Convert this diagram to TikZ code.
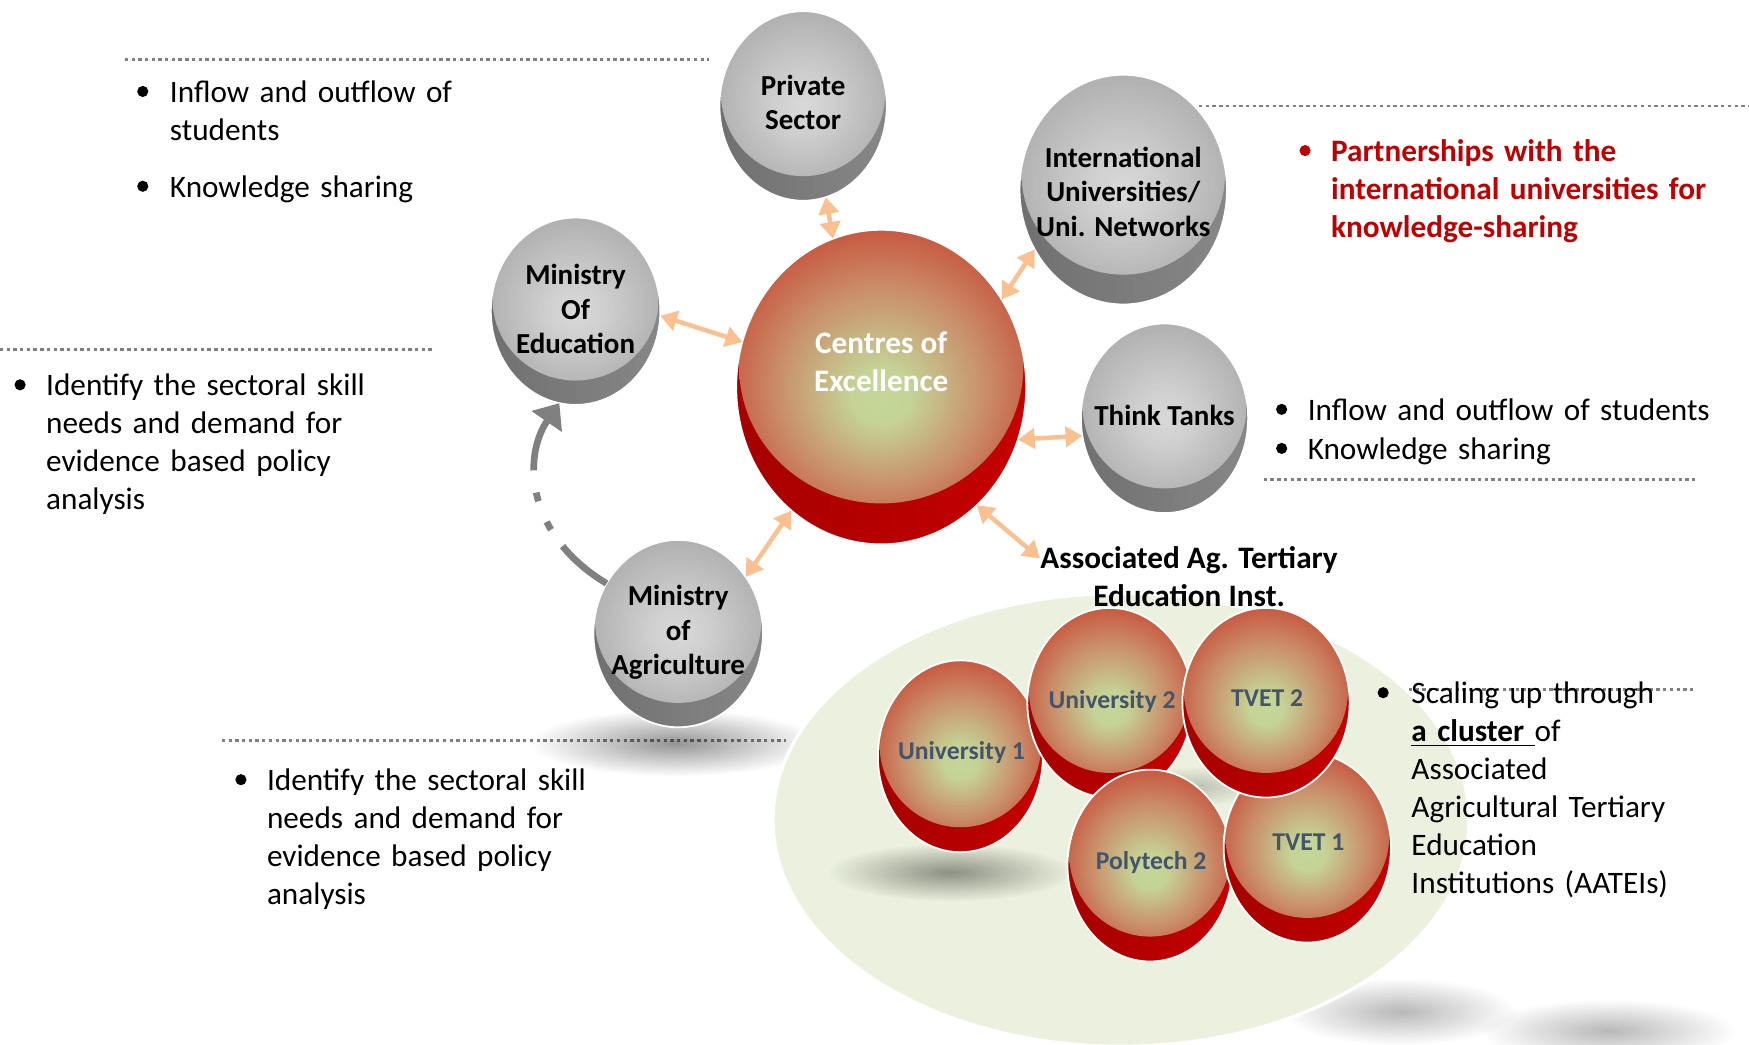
\documentclass[tikz,border=0pt]{standalone}
\usepackage{fontspec}
\setmainfont{Carlito}
\usetikzlibrary{arrows.meta,shapes.geometric,fadings}

\definecolor{arrowor}{RGB}{250,192,144}
\definecolor{dotgray}{RGB}{128,128,128}
\definecolor{redtxt}{RGB}{192,0,0}
\definecolor{smalltxt}{RGB}{68,84,106}
\definecolor{palegreen}{RGB}{235,241,222}
\definecolor{lipredA}{RGB}{165,0,0}
\definecolor{lipredB}{RGB}{198,0,0}
\definecolor{lipgrayA}{RGB}{112,112,112}
\definecolor{lipgrayB}{RGB}{135,135,135}
\definecolor{arcgray}{RGB}{128,128,128}

\pgfdeclareradialshading{redsph}{\pgfpoint{0bp}{-6bp}}{rgb(0bp)=(0.77,0.84,0.60); rgb(5bp)=(0.77,0.83,0.59); rgb(18bp)=(0.79,0.56,0.42); rgb(30bp)=(0.78,0.30,0.21); rgb(42bp)=(0.77,0.11,0.08); rgb(50bp)=(0.76,0.05,0.05)}
\pgfdeclareradialshading{graysph}{\pgfpoint{0bp}{-4bp}}{rgb(0bp)=(0.85,0.85,0.85); rgb(9bp)=(0.81,0.81,0.81); rgb(30bp)=(0.67,0.67,0.67); rgb(50bp)=(0.56,0.56,0.56)}
\tikzfading[name=softfade, inner color=transparent!0, outer color=transparent!100]

\tikzset{
  sph/.style n args={5}{ellipse, inner sep=0pt, outer sep=0pt, minimum width=#1pt, minimum height=#2pt,
    draw=white, line width=0.8pt,
    path picture={
      \shade[left color=#3, right color=#4] (path picture bounding box.south west) rectangle (path picture bounding box.north east);
      \shade[shading=#5] ([yshift=0.065*#2pt]path picture bounding box.center) ellipse [x radius=0.49*#1pt, y radius=0.435*#2pt];
    }},
  redsphere/.style 2 args={sph={#1}{#2}{lipredA}{lipredB}{redsph}},
  graysphere/.style 2 args={sph={#1}{#2}{lipgrayA}{lipgrayB}{graysph}},
  graytext/.style={font=\bfseries\fontsize{13}{15.5}\selectfont, align=center, text=black, inner sep=0pt},
  coetext/.style={font=\bfseries\fontsize{14}{17}\selectfont, align=center, text=white, inner sep=0pt},
  smalltext/.style={font=\bfseries\fontsize{11.5}{14}\selectfont, align=center, text=smalltxt, inner sep=0pt},
  bultext/.style={font=\fontsize{14}{17}\selectfont, align=left, anchor=base west, inner sep=0pt},
  dotline/.style={draw=dotgray, line width=1.3pt, dash pattern=on 1.5pt off 1.5pt},
  orarrow/.style={draw=arrowor, line width=2pt, >={Triangle[length=7.5pt,width=9pt]}, <->},
  grayarr/.style={draw=arcgray, line width=3pt, dash pattern=on 26pt off 9pt on 4pt off 10pt on 4pt off 10pt on 200pt, -{Triangle[length=10pt,width=16pt]}},
  shadow/.style={fill=black, opacity=0.45, path fading=softfade}
}

\begin{document}
\begin{tikzpicture}[x=0.5pt,y=-0.5pt]
\useasboundingbox (0,0) rectangle (1568,936);
\fill[white] (0,0) rectangle (1568,936);

% dotted separators
\draw[dotline] (112,53) -- (636,53);
\draw[dotline] (0,313) -- (388,313);
\draw[dotline] (199,664) -- (705,664);
\draw[dotline] (1075,95) -- (1568,95);
\draw[dotline] (1133,430) -- (1520,430);
\draw[dotline] (1215,618) -- (1520,618);

% soft shadows
\fill[shadow, opacity=0.42] (605,666) ellipse [x radius=130, y radius=30];
\fill[shadow, opacity=0.28] (1255,907) ellipse [x radius=105, y radius=30];
\fill[shadow, opacity=0.28] (1442,924) ellipse [x radius=115, y radius=28];

% cluster background
\fill[palegreen, draw=white, line width=1.5pt] (1005,735) ellipse [x radius=312, y radius=203];
\fill[shadow, opacity=0.4] (852,782) ellipse [x radius=110, y radius=26];
\fill[shadow, opacity=0.2] (1070,705) ellipse [x radius=60, y radius=18];

% main spheres
\node[redsphere={130}{141}] (coe) at (790,347) {};
\node[coetext] (coet) at (790,324) {Centres of\\Excellence};

\node[graysphere={75}{85}] (ps) at (720,95) {};
\node[graytext] (pst) at (720,92) {Private\\Sector};

\node[graysphere={93}{103}] (intl) at (1007,170) {};
\node[graytext] (intlt) at (1007,172) {International\\Universities/\\Uni. Networks};

\node[graysphere={76}{84}] (moe) at (516,279) {};
\node[graytext] (moet) at (516,277) {Ministry\\Of\\Education};

\node[graysphere={75}{85}] (tt) at (1044,375) {};
\node[graytext] (ttt) at (1044,372) {Think Tanks};

\node[graysphere={76}{84}] (moa) at (608,568) {};
\node[graytext] (moat) at (608,567) {Ministry\\of\\Agriculture};

% cluster spheres
\node[redsphere={74}{86}] (u1) at (861,678) {};
\node[smalltext] (u1t) at (862,675) {University 1};
\node[redsphere={74}{85}] (u2) at (995,630) {};
\node[smalltext] (u2t) at (997,629) {University 2};
\node[redsphere={74}{86}] (p2) at (1031,776) {};
\node[smalltext] (p2t) at (1032,773) {Polytech 2};
\node[redsphere={75}{85}] (t1) at (1172,760) {};
\node[smalltext] (t1t) at (1173,755) {TVET 1};
\node[redsphere={75}{85}] (t2) at (1135,630) {};
\node[smalltext] (t2t) at (1136,626) {TVET 2};

% associated label
\node[font=\bfseries\fontsize{14}{17}\selectfont, align=center, inner sep=0pt] (asso) at (1066,517) {Associated Ag. Tertiary\\Education Inst.};

% connectors
\draw[orarrow] (ps.-76) -- (coe.108);
\draw[orarrow] (moe.-3) -- (coe.162);
\draw[orarrow] (intl.-146) -- (coe.36);
\draw[orarrow] (tt.-168) -- (coe.-21);
\draw[orarrow] (moa.40) -- (coe.-126);
\draw[orarrow] (coe.-51) -- (asso.173);
\draw[grayarr] (moa.145) .. controls (472,480) and (468,410) .. (moe.-100);

% bullets and text
\fill (128,82) circle [radius=5];
\fill (128,167) circle [radius=5];
\node[bultext, text width=140pt] (ta1) at (152,92) {Inflow and outflow of\\students};
\node[bultext, text width=140pt] (ta2) at (152,177) {Knowledge sharing};

\fill (18,345) circle [radius=5];
\node[bultext, text width=150pt] (tb) at (41,355) {Identify the sectoral skill\\needs and demand for\\evidence based policy\\analysis};

\fill (216,699) circle [radius=5];
\node[bultext, text width=150pt] (tc) at (239,709) {Identify the sectoral skill\\needs and demand for\\evidence based policy\\analysis};

\fill[redtxt] (1170,135) circle [radius=5];
\node[bultext, text width=180pt, text=redtxt, font=\bfseries\fontsize{14}{17}\selectfont] (td) at (1193,145) {Partnerships with the\\international universities for\\knowledge-sharing};

\fill (1149,367) circle [radius=5];
\fill (1149,402) circle [radius=5];
\node[bultext, text width=185pt] (te1) at (1172,377) {Inflow and outflow of students};
\node[bultext, text width=185pt] (te2) at (1172,412) {Knowledge sharing};

\fill (1240,621) circle [radius=5];
\node[bultext, text width=140pt] (tf) at (1265,631) {Scaling up through\\\underline{\textbf{a cluster\ }}of\\Associated\\Agricultural Tertiary\\Education\\Institutions (AATEIs)};
\end{tikzpicture}
\end{document}
